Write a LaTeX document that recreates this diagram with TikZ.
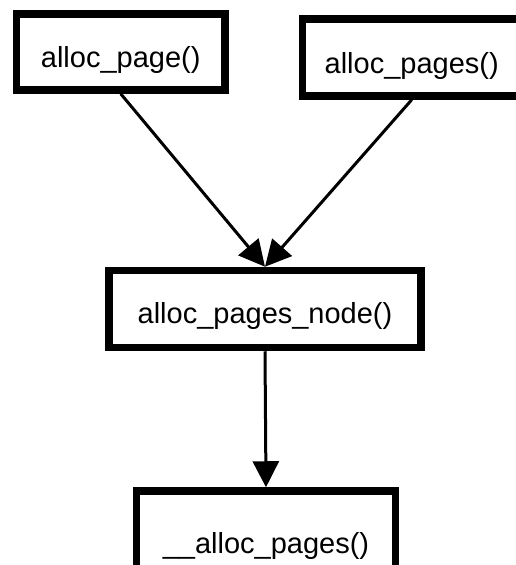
\documentclass[tikz,border=0pt]{standalone}
\usepackage{fontspec}
\setmainfont{Liberation Sans}
\usetikzlibrary{arrows.meta}
\begin{document}
\begin{tikzpicture}[x=1pt,y=-1pt,
  fnbox/.style={draw=black, line width=7.5pt, outer sep=3.75pt, inner sep=0pt,
    rectangle, text depth=0pt, text height=30pt,
    font=\fontsize{29}{34}\selectfont},
  callarrow/.style={line width=3pt, -{Triangle[length=26pt,width=26pt]}}]
\useasboundingbox (0,0) rectangle (516,565);
\node[fnbox, minimum width=208.7pt, minimum height=76pt] (page) at (120.7,52) {alloc\_page()};
\node[fnbox, minimum width=218.5pt, minimum height=77pt, text height=32pt] (pages) at (411.7,57.5) {alloc\_pages()};
\node[fnbox, minimum width=312pt, minimum height=77pt, text height=28.6pt] (node) at (265,309) {alloc\_pages\_node()};
\node[fnbox, minimum width=259pt, minimum height=94pt] (core) at (266,538) {\_\_alloc\_pages()};
\draw[callarrow] (page.south) -- (node.north);
\draw[callarrow] (pages.south) -- (node.north);
\draw[callarrow] (node.south) -- (core.north);
\end{tikzpicture}
\end{document}
